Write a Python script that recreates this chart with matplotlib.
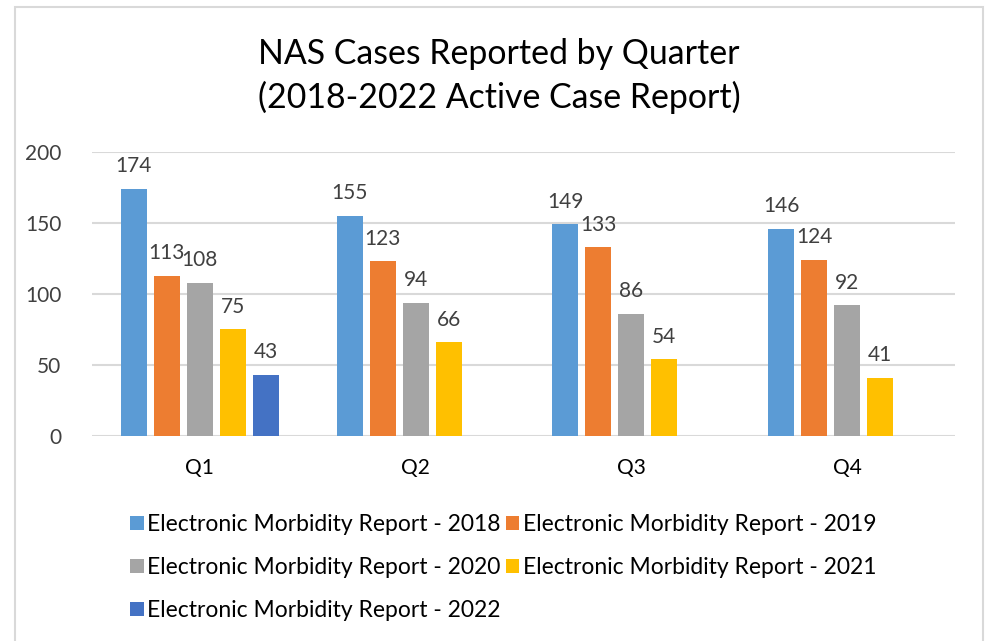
import numpy as np
import matplotlib.pyplot as plt
from matplotlib.patches import Rectangle

plt.rcParams['font.family'] = ['Lato', 'DejaVu Sans']

# Data
quarters = ['Q1', 'Q2', 'Q3', 'Q4']
series = ['Electronic Morbidity Report - 2018', 'Electronic Morbidity Report - 2019',
          'Electronic Morbidity Report - 2020', 'Electronic Morbidity Report - 2021',
          'Electronic Morbidity Report - 2022']
r2018 = [174, 155, 149, 146]
r2019 = [113, 123, 133, 124]
r2020 = [108, 94, 86, 92]
r2021 = [75, 66, 54, 41]
r2022 = [43, np.nan, np.nan, np.nan]
colors = ['#5B9BD5', '#ED7D31', '#A5A5A5', '#FFC000', '#4472C4']

fig = plt.figure(figsize=(9.88, 6.41), dpi=100)
ax = fig.add_axes([0.0931, 0.3198, 0.8735, 0.4431])

# chart border like the Excel frame
fig.patches.append(Rectangle((15 / 988, -0.05), 968 / 988, 1.05 - 7 / 641,
                             transform=fig.transFigure, fill=False,
                             edgecolor='#D9D9D9', lw=1.5))

x = np.arange(len(quarters))
slot = 0.153
width = 0.12
handles = []
for i, (vals, c, name) in enumerate(zip([r2018, r2019, r2020, r2021, r2022], colors, series)):
    bars = ax.bar(x + (i - 2) * slot, vals, width, color=c, label=name, zorder=3)
    labels = ['' if np.isnan(v) else str(int(v)) for v in vals]
    ax.bar_label(bars, labels=labels, padding=9, fontsize=15, color='#404040')
    handles.append(bars)

ax.set_xlim(-0.5, 3.5)
ax.set_ylim(0, 200)
ax.set_yticks(range(0, 201, 50))
ax.set_xticks(x)
ax.set_xticklabels(quarters)
ax.tick_params(length=0, labelsize=15, labelcolor='#404040')
ax.tick_params(axis='x', pad=16, labelcolor='#000000')
ax.tick_params(axis='y', pad=22)
ax.grid(axis='y', color='#D9D9D9', lw=1.5, zorder=0)
for s in ax.spines.values():
    s.set_visible(False)

fig.text(0.505, 0.881, 'NAS Cases Reported by Quarter\n(2018-2022 Active Case Report)',
         ha='center', va='center', fontsize=24.4, linespacing=1.4)

order = [0, 2, 4, 1, 3]
fig.legend([handles[k] for k in order], [series[k] for k in order],
           ncol=2, loc='upper left', bbox_to_anchor=(119 / 988, 1 - 503 / 641),
           frameon=False, fontsize=16.5, handlelength=0.57, handleheight=0.57,
           handletextpad=0.15, columnspacing=0.26, labelspacing=0.95, borderpad=0)

fig.savefig('out.png', dpi=100)
